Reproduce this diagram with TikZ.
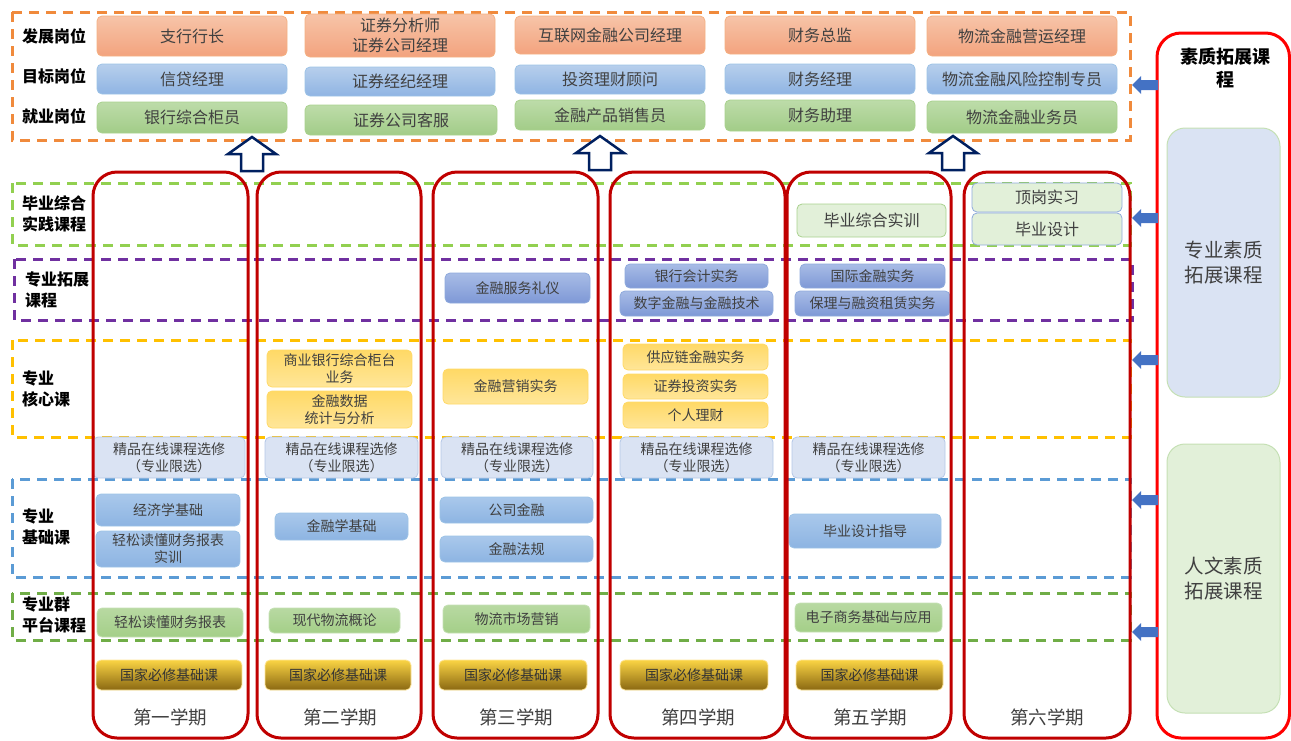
\documentclass[tikz,border=0pt]{standalone}
\usepackage{fontspec}
\setmainfont{Noto Sans CJK SC}
\definecolor{txt}{HTML}{404040}
\definecolor{darkred}{HTML}{C00000}
\definecolor{navy}{HTML}{002060}
\definecolor{arrblue}{HTML}{4472C4}
\definecolor{dOrange}{HTML}{F08A3C}
\definecolor{dLime}{HTML}{92D050}
\definecolor{dPurple}{HTML}{7030A0}
\definecolor{dGold}{HTML}{FFC000}
\definecolor{dBlue}{HTML}{5B9BD5}
\definecolor{dGreen}{HTML}{70AD47}
\definecolor{oTop}{HTML}{F7C4A8}
\definecolor{oBot}{HTML}{F3A37E}
\definecolor{oDraw}{HTML}{F4B183}
\definecolor{bTop}{HTML}{B7CFEC}
\definecolor{bBot}{HTML}{8FB4E3}
\definecolor{bDraw}{HTML}{9DC3E6}
\definecolor{gTop}{HTML}{BDDCA9}
\definecolor{gBot}{HTML}{A2CC88}
\definecolor{gDraw}{HTML}{A9D18E}
\definecolor{paleGreen}{HTML}{E2F0D9}
\definecolor{paleBlue}{HTML}{DAE3F3}
\definecolor{midBlue}{HTML}{8FAADC}
\definecolor{pTop}{HTML}{A8BCE6}
\definecolor{pBot}{HTML}{7E98D6}
\definecolor{yTop}{HTML}{FFD966}
\definecolor{yBot}{HTML}{FFE699}
\definecolor{lDraw}{HTML}{B4C7E7}
\definecolor{baTop}{HTML}{A9C8EB}
\definecolor{baBot}{HTML}{8DB4E2}
\definecolor{plTop}{HTML}{B8D9A2}
\definecolor{plBot}{HTML}{A4CF88}
\definecolor{plDraw}{HTML}{C5E0B4}
\definecolor{auTop}{HTML}{FAD444}
\definecolor{auBot}{HTML}{8A6812}
\begin{document}
\begin{tikzpicture}[x=1pt,y=-1pt,
  sz/.style 2 args={minimum width=#1pt, minimum height=#2pt},
  box/.style={rounded corners=5pt, inner sep=1pt, align=center, text=txt, line width=0.8pt},
  big/.style={box, font=\fontsize{16}{20}\selectfont},
  small/.style={box, font=\fontsize{14}{17}\selectfont},
  orangebox/.style={big, top color=oTop, bottom color=oBot, draw=oDraw},
  bluebox/.style={big, top color=bTop, bottom color=bBot, draw=bDraw},
  greenbox/.style={big, top color=gTop, bottom color=gBot, draw=gDraw},
  pracbox/.style={big, fill=paleGreen, draw=gDraw},
  prac2box/.style={big, fill=paleGreen, draw=midBlue},
  purbox/.style={small, top color=pTop, bottom color=pBot, draw=midBlue},
  yelbox/.style={small, top color=yTop, bottom color=yBot, draw=yTop},
  lightbox/.style={small, fill=paleBlue, draw=lDraw},
  basebox/.style={small, top color=baTop, bottom color=baBot, draw=bDraw},
  platbox/.style={small, top color=plTop, bottom color=plBot, draw=plDraw},
  goldbox/.style={small, top color=auTop, bottom color=auBot, draw=yBot, text=black!80},
  rowlabel/.style={anchor=west, align=left, font=\bfseries\fontsize{16}{21}\selectfont, inner sep=0pt},
  semester/.style={font=\fontsize{18.5}{22}\selectfont, text=txt},
  dashband/.style={dash pattern=on 10pt off 7pt, line width=3pt},
  semcol/.style={draw=darkred, line width=3pt, rounded corners=24pt},
  uparrow/.pic={\draw[navy, line width=2.5pt, fill=white, line join=miter]
     (-11,17) -- (-11,0) -- (-24,0) -- (0,-17) -- (24,0) -- (11,0) -- (11,17) -- cycle;},
  leftarrow/.pic={\fill[arrblue] (-13,0) -- (-4,-9) -- (-4,-5) -- (13,-5) -- (13,5) -- (-4,5) -- (-4,9) -- cycle;}
]
\useasboundingbox (0,0) rectangle (1291,740);

% ---------- dashed bands ----------
\draw[dashband, draw=dOrange] (12,12) rectangle (1130,140);
\draw[dashband, draw=dLime] (12,183) rectangle (1130,245);
\draw[dashband, draw=dPurple] (14,259) rectangle (1132,320);
\draw[dashband, draw=dGold] (12,340) rectangle (1130,437);
\draw[dashband, draw=dBlue] (12,479) rectangle (1130,577);
\draw[dashband, draw=dGreen] (12,593) rectangle (1130,640);

% ---------- row labels ----------
\node[rowlabel] (l1) at (22,36) {发展岗位};
\node[rowlabel] (l2) at (22,76) {目标岗位};
\node[rowlabel] (l3) at (22,116) {就业岗位};
\node[rowlabel] (l4) at (22,214) {毕业综合\\实践课程};
\node[rowlabel] (l5) at (25,290) {专业拓展\\课程};
\node[rowlabel] (l6) at (22,389) {专业\\核心课};
\node[rowlabel] (l7) at (22,527) {专业\\基础课};
\node[rowlabel] (l8) at (22,615) {专业群\\平台课程};

% ---------- job boxes ----------
\node[orangebox, sz={190}{40}] (d1) at (192,36) {支行行长};
\node[orangebox, sz={190}{43}] (d2) at (400,35.5) {证券分析师\\证券公司经理};
\node[orangebox, sz={190}{38}] (d3) at (610,35) {互联网金融公司经理};
\node[orangebox, sz={190}{38}] (d4) at (820,35) {财务总监};
\node[orangebox, sz={190}{40}] (d5) at (1022,36) {物流金融营运经理};

\node[bluebox, sz={190}{30}] (t1) at (192,79) {信贷经理};
\node[bluebox, sz={190}{29}] (t2) at (400,81.5) {证券经纪经理};
\node[bluebox, sz={190}{29}] (t3) at (610,79.5) {投资理财顾问};
\node[bluebox, sz={190}{30}] (t4) at (820,79) {财务经理};
\node[bluebox, sz={190}{30}] (t5) at (1022,79) {物流金融风险控制专员};

\node[greenbox, sz={190}{31}] (j1) at (192,117.5) {银行综合柜员};
\node[greenbox, sz={192}{30}] (j2) at (401,120) {证券公司客服};
\node[greenbox, sz={190}{30}] (j3) at (610,115) {金融产品销售员};
\node[greenbox, sz={190}{31}] (j4) at (820,115.5) {财务助理};
\node[greenbox, sz={190}{32}] (j5) at (1022,117) {物流金融业务员};

% ---------- hollow up arrows ----------
\coordinate (ua1) at (252,154);
\coordinate (ua2) at (600,153);
\coordinate (ua3) at (953,153);
\pic at (ua1) {uparrow};
\pic at (ua2) {uparrow};
\pic at (ua3) {uparrow};

% ---------- practice courses ----------
\node[pracbox, sz={149}{33}] (p5) at (871.5,220.5) {毕业综合实训};
\node[prac2box, sz={150}{29}] (p6a) at (1047,197.5) {顶岗实习};
\node[prac2box, sz={150}{32}] (p6b) at (1047,229) {毕业设计};

% ---------- extension courses ----------
\node[purbox, sz={145}{30}] (e3) at (517.5,288) {金融服务礼仪};
\node[purbox, sz={143}{24}] (e4a) at (696.5,276) {银行会计实务};
\node[purbox, sz={153}{25}] (e4b) at (696.5,303.5) {数字金融与金融技术};
\node[purbox, sz={145}{24}] (e5a) at (872.5,276) {国际金融实务};
\node[purbox, sz={155}{25}] (e5b) at (872.5,303.5) {保理与融资租赁实务};

% ---------- core courses ----------
\node[yelbox, sz={145}{37}] (k2a) at (339.5,368.5) {商业银行综合柜台\\业务};
\node[yelbox, sz={145}{37}] (k2b) at (339.5,409.5) {金融数据\\统计与分析};
\node[yelbox, sz={145}{35}] (k3) at (515.5,386.5) {金融营销实务};
\node[yelbox, sz={145}{26}] (k4a) at (695.5,357) {供应链金融实务};
\node[yelbox, sz={145}{25}] (k4b) at (695.5,386.5) {证券投资实务};
\node[yelbox, sz={145}{26}] (k4c) at (695.5,415) {个人理财};

% ---------- online electives ----------
\node[lightbox, sz={152}{41}] (o1) at (169,457.5) {精品在线课程选修\\（专业限选）};
\node[lightbox, sz={153}{41}] (o2) at (341.5,457.5) {精品在线课程选修\\（专业限选）};
\node[lightbox, sz={152}{41}] (o3) at (517,457.5) {精品在线课程选修\\（专业限选）};
\node[lightbox, sz={153}{41}] (o4) at (696.5,457.5) {精品在线课程选修\\（专业限选）};
\node[lightbox, sz={153}{41}] (o5) at (868.5,457.5) {精品在线课程选修\\（专业限选）};

% ---------- basic courses ----------
\node[basebox, sz={144}{32}] (b1a) at (168,510) {经济学基础};
\node[basebox, sz={144}{36}] (b1b) at (168,549) {轻松读懂财务报表\\实训};
\node[basebox, sz={133}{27}] (b2) at (341.5,526.5) {金融学基础};
\node[basebox, sz={153}{26}] (b3a) at (516.5,510) {公司金融};
\node[basebox, sz={153}{26}] (b3b) at (516.5,549) {金融法规};
\node[basebox, sz={152}{34}] (b5) at (865,531) {毕业设计指导};

% ---------- platform courses ----------
\node[platbox, sz={146}{29}] (g1) at (170,622.5) {轻松读懂财务报表};
\node[platbox, sz={131}{25}] (g2) at (334.5,620.5) {现代物流概论};
\node[platbox, sz={147}{28}] (g3) at (516.5,619) {物流市场营销};
\node[platbox, sz={147}{29}] (g5) at (868.5,617.5) {电子商务基础与应用};

% ---------- national compulsory ----------
\node[goldbox, sz={146}{30}] (n1) at (169,675) {国家必修基础课};
\node[goldbox, sz={146}{30}] (n2) at (338,675) {国家必修基础课};
\node[goldbox, sz={148}{30}] (n3) at (513,675) {国家必修基础课};
\node[goldbox, sz={148}{30}] (n4) at (694,675) {国家必修基础课};
\node[goldbox, sz={147}{30}] (n5) at (869.5,675) {国家必修基础课};

% ---------- semester columns ----------
\draw[semcol] (93,172) rectangle (248,738);
\draw[semcol] (257,172) rectangle (421,738);
\draw[semcol] (433,172) rectangle (598,738);
\draw[semcol] (610,172) rectangle (785,738);
\draw[semcol] (787,172) rectangle (951,738);
\draw[semcol] (964,172) rectangle (1130,738);

\node[semester] (s1) at (170,717) {第一学期};
\node[semester] (s2) at (340,717) {第二学期};
\node[semester] (s3) at (516,717) {第三学期};
\node[semester] (s4) at (698,717) {第四学期};
\node[semester] (s5) at (870,717) {第五学期};
\node[semester] (s6) at (1047,717) {第六学期};

% ---------- right panel ----------
\draw[draw=red, line width=3pt, rounded corners=24pt] (1157,33) rectangle (1289.5,738);
\node[font=\bfseries\fontsize{18}{23}\selectfont, align=center, inner sep=0pt] (qt) at (1225,68) {素质拓展课\\程};
\node[rounded corners=18pt, fill=paleBlue, draw=plDraw, line width=1pt, sz={113}{269}, align=center,
      font=\fontsize{19.5}{25}\selectfont, text=txt] (zy) at (1223.5,262.5) {专业素质\\拓展课程};
\node[rounded corners=18pt, fill=paleGreen, draw=plDraw, line width=1pt, sz={113}{269}, align=center,
      font=\fontsize{19.5}{25}\selectfont, text=txt] (rw) at (1223.5,578.5) {人文素质\\拓展课程};

\coordinate (la1) at (1145,85);
\coordinate (la2) at (1145,218);
\coordinate (la3) at (1145,360);
\coordinate (la4) at (1145,500);
\coordinate (la5) at (1145,632);
\pic at (la1) {leftarrow};
\pic at (la2) {leftarrow};
\pic at (la3) {leftarrow};
\pic at (la4) {leftarrow};
\pic at (la5) {leftarrow};
\end{tikzpicture}
\end{document}
